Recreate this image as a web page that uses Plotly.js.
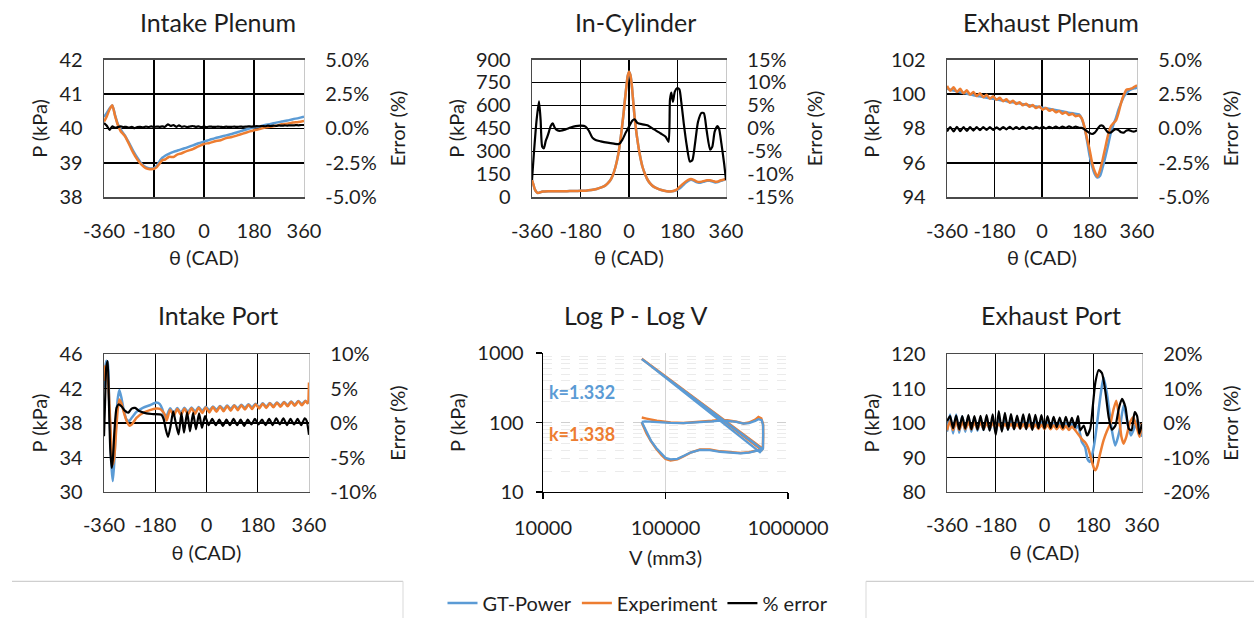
<!DOCTYPE html>
<html><head><meta charset="utf-8">
<script src="https://cdn.plot.ly/plotly-3.0.1.min.js"></script>
<style>html,body{margin:0;padding:0;background:#fff}#chart{width:1254px;height:623px}</style>
</head><body><div id="chart"></div>
<script>
// ---------------- DATA ----------------
const thetaTicks = [-360, -180, 0, 180, 360];
const thetaTickText = ['-360', '-180', '0', '180', '360'];

// Intake Plenum
const ipTheta = [-360,-350,-340,-330,-320,-310,-300,-285,-270,-255,-240,-225,-210,-195,-180,-170,-160,-150,-140,-125,-110,-95,-80,-60,-40,-20,0,20,40,60,80,100,120,140,160,180,200,220,240,260,280,300,320,340,360];
const ipGT = [40.33,40.45,40.58,40.67,40.38,40.12,39.97,39.8,39.58,39.35,39.15,38.98,38.88,38.84,38.85,38.92,39.05,39.15,39.21,39.27,39.32,39.36,39.40,39.45,39.51,39.57,39.62,39.67,39.72,39.76,39.80,39.84,39.89,39.94,39.99,40.03,40.06,40.10,40.13,40.17,40.20,40.23,40.27,40.30,40.34];
const ipExp = [40.2,40.35,40.55,40.67,40.36,40.1,39.92,39.78,39.55,39.3,39.1,38.95,38.85,38.82,38.83,38.88,38.98,39.08,39.1,39.18,39.17,39.25,39.28,39.35,39.4,39.48,39.55,39.58,39.63,39.66,39.72,39.75,39.8,39.85,39.9,39.95,39.98,40.03,40.05,40.08,40.12,40.14,40.17,40.19,40.22];
const ipErrTheta = [-360,-350,-340,-330,-320,-310,-300,-290,-280,-270,-260,-250,-240,-230,-220,-210,-200,-190,-180,-170,-160,-150,-140,-130,-120,-110,-100,-90,-80,-70,-60,-50,-40,-30,-20,-10,0,10,20,30,40,50,60,70,80,90,100,110,120,130,140,150,160,170,180,190,200,210,220,230,240,250,260,270,280,290,300,310,320,330,340,350,360];
const ipErr = [0.4,0.2,-0.1,0.15,0.05,0.1,0.15,0.1,0.12,0.05,0.12,0.02,0.1,0.12,0.08,0.14,0.1,0.15,0.1,0.14,0.12,0.15,0.12,0.3,0.18,0.25,0.12,0.22,0.12,0.16,0.1,0.14,0.18,0.12,0.15,0.1,0.13,0.1,0.14,0.12,0.11,0.14,0.12,0.1,0.13,0.11,0.12,0.13,0.11,0.14,0.12,0.13,0.15,0.14,0.15,0.17,0.15,0.18,0.16,0.2,0.18,0.2,0.19,0.22,0.2,0.22,0.21,0.23,0.22,0.24,0.23,0.25,0.25];
const ipPTicks = [38, 39, 40, 41, 42];
const ipPText = ['38', '39', '40', '41', '42'];
const ipErrTicks = [-5, -2.5, 0, 2.5, 5];
const ipErrText = ['-5.0%', '-2.5%', '0.0%', '2.5%', '5.0%'];

// In-Cylinder
const cylTheta = [-360,-355,-350,-345,-340,-335,-330,-320,-300,-280,-260,-240,-220,-200,-180,-160,-140,-120,-100,-90,-80,-70,-60,-50,-40,-30,-20,-15,-10,-5,0,5,10,15,20,30,40,50,60,70,80,90,100,120,140,160,170,180,190,200,210,220,230,240,250,260,270,280,290,300,310,320,330,340,350,360];
const cylGT = [113,85,55,38,30,30,33,38,40,40,40,40,41,42,43,44,48,55,67,75,90,110,145,200,280,400,550,640,720,790,820,800,740,640,540,390,280,200,150,112,88,72,62,48,40,40,43,50,62,78,95,108,115,110,100,95,98,104,108,108,103,98,100,108,113,118];
const cylExp = [113,85,55,38,30,30,33,38,40,40,40,40,41,42,43,44,48,55,67,75,90,110,145,200,280,400,550,640,720,790,820,800,740,640,540,390,280,200,150,112,88,72,62,48,40,40,45,55,72,88,103,115,120,115,105,100,103,108,112,112,108,102,104,112,115,120];
const cylErrTheta = [-360,-353,-343,-334,-328,-322,-316,-309,-303,-297,-291,-283,-276,-266,-254,-235,-217,-198,-179,-161,-149,-136,-124,-105,-80,-56,-37,-25,-12,0,12,21,31,50,68,93,118,136,147,152,157,163,170,179,187,194,204,214,226,235,245,256,269,278,288,301,309,318,328,334,343,353,360];
const cylErr = [-11.2,-5.4,1.8,5.9,1.8,-4.0,-4.3,-2.7,-1.8,-0.7,0.5,1.1,0.2,-0.4,-0.5,-0.2,0.2,0.5,0.6,0.4,-0.5,-2.0,-2.5,-2.8,-3.1,-3.3,-3.4,-2.5,-0.9,0.4,1.7,2.0,1.2,0.9,0.7,-0.2,-1.1,-1.8,-2.9,6.2,7.8,5.8,8.0,8.8,8.5,5.8,0.7,-3.6,-7.2,-6.9,-3.3,1.4,3.4,3.3,-0.4,-4.6,-4.0,-0.7,0.5,0.0,-3.3,-7.6,-11.2];
const cylPTicks = [0, 150, 300, 450, 600, 750, 900];
const cylPText = ['0', '150', '300', '450', '600', '750', '900'];
const cylErrTicks = [-15, -10, -5, 0, 5, 10, 15];
const cylErrText = ['-15%', '-10%', '-5%', '0%', '5%', '10%', '15%'];

// Exhaust Plenum
const ephGTTheta = [-360,-340,-320,-300,-280,-260,-240,-220,-200,-180,-160,-140,-120,-100,-80,-60,-40,-20,0,20,40,60,80,100,120,140,150,160,170,180,190,200,210,220,230,240,250,260,270,280,290,300,310,320,330,340,350,360];
const ephGT = [100.30,100.22,100.14,100.07,100.0,99.93,99.87,99.81,99.76,99.71,99.65,99.6,99.54,99.49,99.43,99.38,99.32,99.27,99.21,99.16,99.1,99.04,98.98,98.92,98.87,98.82,98.6,98.1,97.35,96.45,95.8,95.35,95.15,95.25,95.75,96.35,97.0,97.7,98.2,98.6,99.1,99.5,99.85,100.05,100.2,100.28,100.33,100.37];
const ephTheta = [-360,-347.5,-335,-322.5,-310,-297.5,-285,-272.5,-260,-247.5,-235,-222.5,-210,-197.5,-185,-172.5,-160,-147.5,-135,-122.5,-110,-97.5,-85,-72.5,-60,-47.5,-35,-22.5,-10,2.5,15,27.5,40,52.5,65,77.5,90,102.5,115,127.5,140,150,160,170,180,190,200,210,220,230,240,250,260,270,280,290,300,310,320,330,340,350,360];
const ephExp = [100.47,100.19,100.39,100.11,100.30,100.04,100.21,99.96,100.12,99.88,100.04,99.81,99.95,99.73,99.87,99.66,99.78,99.58,99.69,99.49,99.61,99.42,99.52,99.34,99.44,99.26,99.36,99.18,99.28,99.09,99.19,99.02,99.10,98.94,99.02,98.86,98.94,98.78,98.85,98.71,98.75,98.6,98.15,97.45,96.8,96.0,95.5,95.2,95.6,96.2,96.9,97.6,98.1,98.3,98.45,98.9,99.5,99.95,100.25,100.28,100.32,100.42,100.5];
const ephErr = [-0.22,0.10,-0.22,0.12,-0.20,0.10,-0.18,0.10,-0.15,0.10,-0.12,0.10,-0.10,0.10,-0.10,0.08,-0.08,0.10,-0.06,0.12,-0.05,0.10,-0.04,0.12,-0.03,0.10,-0.02,0.12,0.00,0.12,0.00,0.12,0.02,0.14,0.02,0.14,0.04,0.15,0.05,0.14,0.05,0.05,-0.05,-0.2,-0.33,-0.4,-0.3,-0.05,0.2,0.2,-0.05,-0.28,-0.3,-0.15,-0.05,-0.12,-0.28,-0.3,-0.15,-0.12,-0.2,-0.22,-0.12];
const ephPTicks = [94, 96, 98, 100, 102];
const ephPText = ['94', '96', '98', '100', '102'];
const ephErrTicks = [-5, -2.5, 0, 2.5, 5];
const ephErrText = ['-5.0%', '-2.5%', '0.0%', '2.5%', '5.0%'];

// Intake Port
const iptTheta = [-360,-356,-352,-347,-343,-338,-333,-329,-324,-318,-312,-306,-299,-290,-281,-271,-262,-246,-222,-199,-176,-164,-155,-145,-140,-127.5,-115,-102.5,-90,-77.5,-65,-52.5,-40,-27.5,-15,-2.5,10,22.5,35,47.5,60,72.5,85,97.5,110,122.5,135,147.5,160,172.5,185,197.5,210,222.5,235,247.5,260,272.5,285,297.5,310,322.5,335,347.5,355,360];
const iptGT = [42.12,44.26,45.22,45.0,41.93,36.9,32.6,31.27,33.4,37.67,40.77,41.85,40.96,39.41,38.44,38.25,38.64,39.3,39.8,40.07,40.38,40.19,39.6,38.44,38.8,39.71,39.13,39.74,39.2,39.77,39.28,39.81,39.34,39.86,39.4,39.89,39.47,39.92,39.55,39.97,39.6,40.03,39.65,40.08,39.7,40.13,39.76,40.18,39.81,40.24,39.86,40.29,39.91,40.34,39.97,40.39,40.02,40.45,40.07,40.5,40.12,40.55,40.18,40.6,40.35,40.45];
const iptExp = [42.9,44.6,44.5,43.5,41.5,38.0,34.5,33.2,34.0,36.8,39.5,40.75,40.3,39.2,38.3,37.7,37.85,38.6,39.2,39.5,39.68,39.65,39.4,38.9,38.3,39.56,38.89,39.62,38.95,39.67,39.02,39.72,39.09,39.77,39.16,39.82,39.23,39.87,39.3,39.93,39.36,39.97,39.44,40.03,39.5,40.08,39.57,40.14,39.63,40.19,39.7,40.25,39.76,40.3,39.83,40.36,39.89,40.42,39.95,40.48,40.01,40.54,40.07,40.57,40.3,42.7];
const iptErrTheta = [-360,-356,-352,-347,-343,-338,-333,-329,-323,-316,-309,-298,-287,-275,-263,-251,-234,-211,-187,-158,-150,-143,-135,-126,-117,-108,-98,-88,-79,-68,-58,-47,-37,-26,-16,-5,7.5,20,32.5,45,57.5,70,82.5,95,107.5,120,132.5,145,157.5,170,182.5,195,207.5,220,232.5,245,257.5,270,282.5,295,307.5,320,332.5,345,352,360];
const iptErr = [-1.9,3.4,8.1,9.0,3.4,-3.8,-6.5,-5.3,-0.9,2.2,2.7,2.4,1.8,1.5,2.1,2.2,1.7,1.4,1.3,1.2,0.5,-0.9,-2.0,-0.4,1.7,0.05,-1.65,1.5,-1.4,1.6,-1.2,1.5,-0.9,1.4,-0.7,1.0,-0.3,0.6,-0.3,0.5,-0.4,0.5,-0.3,0.6,-0.3,0.5,-0.4,0.5,-0.2,0.6,-0.2,0.5,-0.3,0.6,-0.3,0.7,-0.2,0.7,-0.3,0.6,-0.2,0.6,-0.3,0.7,0.3,-1.7];
const iptPTicks = [30, 34, 38, 42, 46];
const iptPText = ['30', '34', '38', '42', '46'];
const iptErrTicks = [-10, -5, 0, 5, 10];
const iptErrText = ['-10%', '-5%', '0%', '5%', '10%'];

// Log P - Log V
const pvGTV = [64000,66000,70000,76000,84000,93000,100000,110000,125000,140000,160000,191000,230000,279000,340000,410000,480000,540000,590000,620000,64000,68000,590000,624000,627000,626000,610000,574000,540000,480000,433000,380000,320000,279000,240000,191000,140000,110000,85000,68000,64000];
const pvGTP = [102,92,72,55,43,35,31,29.5,30,33,37,40.5,40,38,36.5,36,37,38.5,40,41,820,760,37.5,42,65,92,108,112,106,98,97,102,106,107,104,101,98,99,102,104,102];
const pvExpV = [64000,66000,70000,76000,84000,93000,100000,110000,125000,140000,160000,191000,230000,279000,340000,410000,480000,540000,590000,622000,64000,610000,624000,627000,626000,605000,574000,540000,480000,433000,380000,320000,279000,240000,191000,140000,110000,85000,70000,64000];
const pvExpP = [100,88,70,54,42,34,30,28.5,29.5,32.5,37,41,41,38.5,37,36.5,37.5,39,40.5,42,830,40.5,43,68,95,115,120,110,100,97,103,108,109,106,102,99,100,106,114,118];
const pvVTicks = [10000, 100000, 1000000];
const pvVText = ['10000', '100000', '1000000'];
const pvPTicks = [10, 100, 1000];
const pvPText = ['10', '100', '1000'];
const pvMinorP = [20,30,40,50,60,70,80,90,200,300,400,500,600,700,800,900];
const kLabels = ['k=1.332', 'k=1.338'];

// Exhaust Port
const eptTheta = [-360,-348.75,-337.5,-326.25,-315,-303.75,-292.5,-281.25,-270,-258.75,-247.5,-236.25,-225,-213.75,-202.5,-191.25,-180,-168.75,-157.5,-146.25,-135,-123.75,-112.5,-101.25,-90,-78.75,-67.5,-56.25,-45,-33.75,-22.5,-11.25,0,11.25,22.5,33.75,45,56.25,67.5,78.75,90,101.25,112.5,123.75];
const eptGTLateTheta = [138,150,159,167,175,184,194,206,218,231,249,261,277,292,307,319,335,344,352,360];
const eptGT = [97.5,102.5,97.0,102.5,97.2,102.0,97.5,101.8,97.5,101.5,97.8,101.2,98.0,101.0,98.0,101.0,97.5,101.2,98.0,101.0,98.2,100.8,98.3,100.5,98.4,100.5,98.4,100.6,98.3,100.5,98.5,100.4,98.5,100.2,98.6,100.0,98.6,100.0,98.5,100.0,98.4,99.8,98.2,99.2];
const eptGTLate = [94.5,93,89.5,88.7,90.5,94,99.8,107.5,113.3,108.4,97.8,93.5,97.8,105.1,99.8,96.4,99.3,100.8,98.5,96.0];
const eptExp = [97.9,100.5,98.0,100.6,98.0,100.4,98.2,100.3,98.2,100.2,98.3,100.2,98.3,100.0,98.4,100.0,98.6,99.8,98.5,99.8,98.5,99.8,98.5,99.7,98.4,99.7,98.5,99.6,98.4,99.6,98.3,99.5,98.3,99.5,98.2,99.4,98.2,99.3,98.1,99.2,98.0,99.0,98.0,97.6];
const eptExpLateTheta = [132,142,151,160,168,176,183,188,195,205,218,231,243,255,265,275,284,292,302,315,327,340,351,360];
const eptExpLate = [96.0,95.0,94.3,93.0,91.0,88.5,86.8,86.3,87.5,91.0,95.0,97.8,99.8,104.0,106.5,102.0,96.0,94.0,96.0,100.0,101.7,99.0,96.0,100.0];
const eptErr = [0.5,2.0,-1.5,2.2,-1.8,2.0,-1.6,2.3,-1.8,2.0,-1.9,2.1,-2.0,2.3,-2.2,2.5,-3.5,3.5,-2.5,3.0,-2.0,2.6,-1.8,2.2,-1.6,2.5,-1.8,2.6,-2.0,2.4,-1.5,2.3,-1.6,2.0,-1.4,1.8,-1.2,1.6,-1.4,1.8,-1.0,1.5,-1.2,2.0];
const eptErrLateTheta = [132,145,157,169,178,188,200,212,225,237,249,262,274,286,299,311,321,333,342,350,360];
const eptErrLate = [-2.1,-0.7,-3.6,-1.6,4.6,11.9,15.4,14.5,9.0,1.7,-1.9,-0.7,4.1,7.0,4.6,-1.6,-2.1,3.2,2.0,-3.1,-0.2];
const eptPTicks = [80, 90, 100, 110, 120];
const eptPText = ['80', '90', '100', '110', '120'];
const eptErrTicks = [-20, -10, 0, 10, 20];
const eptErrText = ['-20%', '-10%', '0%', '10%', '20%'];

const subTitles = ['Intake Plenum', 'In-Cylinder', 'Exhaust Plenum', 'Intake Port', 'Log P - Log V', 'Exhaust Port'];
const seriesNames = ['GT-Power', 'Experiment', '% error'];

// ---------------- STYLE / LAYOUT ----------------
const W = 1254, H = 623;
const BLUE = '#5B9BD5', ORANGE = '#ED7D31', BLACK = '#000000';
const TXT = '#1e1e1e';
const FONT = 'Lato, "Open Sans", sans-serif';
const TICK = 20, ATITLE = 20, STITLE = 25;
const dx = (a, b) => [a / W, b / W];
const dy = (top, bot) => [1 - bot / H, 1 - top / H];

function xAx(dom, anc) {
  return {domain: dom, anchor: anc, range: [-360, 360], tickvals: thetaTicks, ticktext: thetaTickText,
    showgrid: true, gridcolor: '#000', gridwidth: 1.3, zeroline: false, showline: true, mirror: true,
    linecolor: '#4a4a4a', linewidth: 1.3, ticks: '', ticklabelstandoff: 15,
    tickfont: {size: TICK, color: TXT}, title: {text: 'θ (CAD)', font: {size: ATITLE, color: TXT}, standoff: 10}};
}
function yL(dom, anc, rng, tv, tt) {
  return {domain: dom, anchor: anc, range: rng, tickvals: tv, ticktext: tt, showgrid: true, gridcolor: '#000',
    gridwidth: 1.3, zeroline: false, showline: true, linecolor: '#4a4a4a', linewidth: 1.3, ticks: '',
    ticklabelstandoff: 16, tickfont: {size: TICK, color: TXT}, title: {text: 'P (kPa)', font: {size: ATITLE, color: TXT}, standoff: 6}};
}
function yR(ov, anc, rng, tv, tt) {
  return {overlaying: ov, side: 'right', anchor: anc, range: rng, tickvals: tv, ticktext: tt, showgrid: false,
    zeroline: false, showline: true, linecolor: '#c8c8c8', linewidth: 1.3, ticks: '', ticklabelstandoff: 16,
    tickfont: {size: TICK, color: TXT}, title: {text: 'Error (%)', font: {size: ATITLE, color: TXT}, standoff: 15}};
}

const row1 = dy(60, 199), row2 = dy(357, 496);
const layout = {
  width: W, height: H, margin: {l: 0, r: 0, t: 0, b: 0}, paper_bgcolor: '#fff', plot_bgcolor: 'rgba(0,0,0,0)',
  font: {family: FONT, color: TXT, size: TICK}, showlegend: true,
  legend: {orientation: 'h', x: 638 / W, xanchor: 'center', y: 1 - 608 / H, yanchor: 'middle',
    font: {size: 20, color: TXT}, bgcolor: 'rgba(0,0,0,0)', traceorder: 'normal'},
  xaxis: xAx(dx(104, 304), 'y'),
  yaxis: yL(row1, 'x', [38, 42], ipPTicks, ipPText),
  yaxis7: yR('y', 'x', [-5, 5], ipErrTicks, ipErrText),
  xaxis2: xAx(dx(532, 726), 'y2'),
  yaxis2: yL(row1, 'x2', [0, 900], cylPTicks, cylPText),
  yaxis8: yR('y2', 'x2', [-15, 15], cylErrTicks, cylErrText),
  xaxis3: xAx(dx(947, 1137), 'y3'),
  yaxis3: yL(row1, 'x3', [94, 102], ephPTicks, ephPText),
  yaxis9: yR('y3', 'x3', [-5, 5], ephErrTicks, ephErrText),
  xaxis4: xAx(dx(104, 309), 'y4'),
  yaxis4: yL(row2, 'x4', [30, 46], iptPTicks, iptPText),
  yaxis10: yR('y4', 'x4', [-10, 10], iptErrTicks, iptErrText),
  xaxis6: xAx(dx(947, 1142), 'y6'),
  yaxis6: yL(row2, 'x6', [80, 120], eptPTicks, eptPText),
  yaxis11: yR('y6', 'x6', [-20, 20], eptErrTicks, eptErrText),
  xaxis5: {type: 'log', domain: dx(543, 788), anchor: 'y5', range: [4, 6], tickvals: pvVTicks, ticktext: pvVText,
    showgrid: true, gridcolor: '#d4d4d4', gridwidth: 1, zeroline: false, showline: true, linecolor: '#000', linewidth: 1.3,
    ticks: 'outside', ticklen: 6, tickcolor: '#000', tickwidth: 1.3, ticklabelstandoff: 12,
    tickfont: {size: TICK, color: TXT}, title: {text: 'V (mm3)', font: {size: ATITLE, color: TXT}, standoff: 12}},
  yaxis5: {type: 'log', domain: dy(356, 496), anchor: 'x5', range: [1, 3], tickvals: pvPTicks, ticktext: pvPText,
    showgrid: true, gridcolor: '#cfcfcf', griddash: 'dash', gridwidth: 1, zeroline: false, showline: true,
    linecolor: '#000', linewidth: 1.3, ticks: 'outside', ticklen: 6, tickcolor: '#000', tickwidth: 1.3, ticklabelstandoff: 8,
    minor: {tickvals: pvMinorP, showgrid: true, gridcolor: '#ebebeb', griddash: 'dash', gridwidth: 1, ticks: ''},
    tickfont: {size: TICK, color: TXT}, title: {text: 'P (kPa)', font: {size: ATITLE, color: TXT}, standoff: 6}},
  annotations: [],
  shapes: [
    {type: 'line', xref: 'paper', yref: 'paper', x0: 12 / W, x1: 403 / W, y0: 1 - 586 / H, y1: 1 - 586 / H, line: {color: '#c4c4c4', width: 1}},
    {type: 'line', xref: 'paper', yref: 'paper', x0: 403 / W, x1: 403 / W, y0: 1 - 586 / H, y1: 0, line: {color: '#d9d9d9', width: 1}},
    {type: 'line', xref: 'paper', yref: 'paper', x0: 866 / W, x1: 1, y0: 1 - 586 / H, y1: 1 - 586 / H, line: {color: '#c4c4c4', width: 1}},
    {type: 'line', xref: 'paper', yref: 'paper', x0: 866 / W, x1: 866 / W, y0: 1 - 586 / H, y1: 0, line: {color: '#d9d9d9', width: 1}}
  ]
};

const titleX = [218, 635, 1051, 218, 635, 1051];
const titleY = [22, 22, 22, 318, 318, 318];
subTitles.forEach((t, i) => layout.annotations.push({text: t, xref: 'paper', yref: 'paper', x: titleX[i] / W,
  y: 1 - titleY[i] / H, xanchor: 'center', yanchor: 'middle', showarrow: false, font: {size: STITLE, color: TXT}}));
layout.annotations.push({text: '<b>' + kLabels[0] + '</b>', xref: 'paper', yref: 'paper', x: 547 / W, y: 1 - 395 / H,
  xanchor: 'left', yanchor: 'middle', showarrow: false, font: {size: 18, color: BLUE}});
layout.annotations.push({text: '<b>' + kLabels[1] + '</b>', xref: 'paper', yref: 'paper', x: 547 / W, y: 1 - 438 / H,
  xanchor: 'left', yanchor: 'middle', showarrow: false, font: {size: 18, color: ORANGE}});

// ---------------- TRACES ----------------
const traces = [];
function trio(xa, yl, yr, gtX, gtY, exX, exY, erX, erY, first) {
  traces.push({type: 'scatter', mode: 'lines', x: gtX, y: gtY, xaxis: xa, yaxis: yl, name: seriesNames[0],
    legendgroup: 'gt', showlegend: first, line: {color: BLUE, width: 2.5, shape: 'spline', smoothing: 0.6}});
  traces.push({type: 'scatter', mode: 'lines', x: exX, y: exY, xaxis: xa, yaxis: yl, name: seriesNames[1],
    legendgroup: 'ex', showlegend: first, line: {color: ORANGE, width: 2.5, shape: 'spline', smoothing: 0.6}});
  traces.push({type: 'scatter', mode: 'lines', x: erX, y: erY, xaxis: xa, yaxis: yr, name: seriesNames[2],
    legendgroup: 'er', showlegend: first, line: {color: BLACK, width: 2.2, shape: 'spline', smoothing: 0.6}});
}
trio('x', 'y', 'y7', ipTheta, ipGT, ipTheta, ipExp, ipErrTheta, ipErr, true);
trio('x2', 'y2', 'y8', cylTheta, cylGT, cylTheta, cylExp, cylErrTheta, cylErr, false);
trio('x3', 'y3', 'y9', ephGTTheta, ephGT, ephTheta, ephExp, ephTheta, ephErr, false);
trio('x4', 'y4', 'y10', iptTheta, iptGT, iptTheta, iptExp, iptErrTheta, iptErr, false);
trio('x6', 'y6', 'y11', eptTheta.concat(eptGTLateTheta), eptGT.concat(eptGTLate),
  eptTheta.slice(0, 43).concat(eptExpLateTheta), eptExp.slice(0, 43).concat(eptExpLate),
  eptTheta.concat(eptErrLateTheta), eptErr.concat(eptErrLate), false);
traces.push({type: 'scatter', mode: 'lines', x: pvExpV, y: pvExpP, xaxis: 'x5', yaxis: 'y5', name: seriesNames[1],
  legendgroup: 'ex', showlegend: false, line: {color: ORANGE, width: 2.5}});
traces.push({type: 'scatter', mode: 'lines', x: pvGTV, y: pvGTP, xaxis: 'x5', yaxis: 'y5', name: seriesNames[0],
  legendgroup: 'gt', showlegend: false, line: {color: BLUE, width: 2.3}});

Plotly.newPlot('chart', traces, layout, {displayModeBar: false, staticPlot: true});
</script></body></html>
